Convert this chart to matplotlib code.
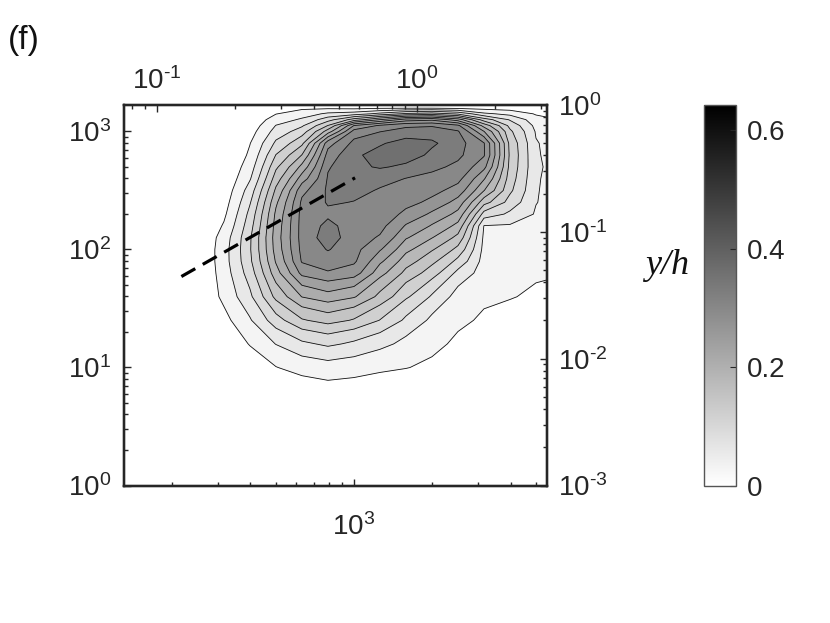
import numpy as np
import matplotlib
matplotlib.use("Agg")
import matplotlib.pyplot as plt
from matplotlib.colors import Normalize
from matplotlib.cm import ScalarMappable
from matplotlib.ticker import LogLocator, FuncFormatter, NullFormatter

plt.rcParams['font.family'] = ['Liberation Sans', 'DejaVu Sans']
plt.rcParams['mathtext.default'] = 'regular'
plt.rcParams['axes.unicode_minus'] = False

# ---------------- data ----------------
# streamwise wavelength (bottom axis) grid
lambda_x = [251.2, 316.2, 398.1, 501.2, 631.0, 794.3, 1000.0, 1258.9, 1584.9,
            1995.3, 2511.9, 3162.3, 3981.1, 5011.9, 6309.6]
# wall-normal wavelength (left axis) grid
lambda_y = [3.98, 6.31, 10.0, 15.85, 25.12, 39.81, 63.10, 79.43, 100.0, 125.9,
            158.5, 199.5, 251.2, 316.2, 398.1, 501.2, 631.0, 794.3, 1000.0,
            1122.0, 1258.9, 1412.5, 1584.9, 1995.3]
# spectrum values, one row per lambda_y, one column per lambda_x
spectrum = [
    [0, 0, 0, 0, 0, 0, 0, 0, 0, 0, 0, 0, 0, 0, 0],
    [0, 0, 0, 0.009, 0.012, 0.018, 0.015, 0.012, 0.011, 0.006, 0, 0, 0, 0, 0],
    [0, 0, 0.012, 0.029, 0.042, 0.048, 0.044, 0.036, 0.031, 0.024, 0.009, 0, 0, 0, 0],
    [0, 0.006, 0.032, 0.061, 0.084, 0.096, 0.084, 0.069, 0.051, 0.039, 0.023, 0.009, 0, 0, 0],
    [0, 0.021, 0.057, 0.108, 0.147, 0.162, 0.147, 0.119, 0.084, 0.053, 0.038, 0.024, 0.012, 0, 0],
    [0, 0.038, 0.084, 0.159, 0.211, 0.228, 0.213, 0.171, 0.125, 0.086, 0.047, 0.038, 0.033, 0.021, 0.012],
    [0, 0.045, 0.105, 0.198, 0.279, 0.297, 0.285, 0.221, 0.171, 0.134, 0.081, 0.045, 0.042, 0.038, 0.033],
    [0, 0.048, 0.114, 0.213, 0.303, 0.315, 0.305, 0.246, 0.194, 0.158, 0.111, 0.048, 0.045, 0.042, 0.038],
    [0, 0.048, 0.117, 0.222, 0.309, 0.332, 0.309, 0.273, 0.218, 0.183, 0.141, 0.051, 0.048, 0.045, 0.039],
    [0, 0.044, 0.116, 0.225, 0.312, 0.345, 0.312, 0.297, 0.243, 0.211, 0.171, 0.054, 0.051, 0.048, 0.041],
    [0, 0.033, 0.108, 0.222, 0.312, 0.338, 0.315, 0.309, 0.267, 0.237, 0.201, 0.059, 0.057, 0.053, 0.042],
    [0, 0.024, 0.099, 0.216, 0.311, 0.324, 0.321, 0.317, 0.293, 0.264, 0.231, 0.108, 0.084, 0.057, 0.044],
    [0, 0.017, 0.087, 0.204, 0.306, 0.333, 0.329, 0.323, 0.309, 0.293, 0.258, 0.162, 0.108, 0.061, 0.045],
    [0, 0.011, 0.074, 0.186, 0.291, 0.335, 0.339, 0.327, 0.318, 0.309, 0.288, 0.211, 0.126, 0.062, 0.045],
    [0, 0.006, 0.057, 0.165, 0.255, 0.333, 0.347, 0.341, 0.329, 0.323, 0.309, 0.243, 0.135, 0.063, 0.045],
    [0, 0.003, 0.045, 0.144, 0.219, 0.327, 0.354, 0.363, 0.354, 0.336, 0.324, 0.279, 0.141, 0.065, 0.045],
    [0, 0, 0.035, 0.121, 0.181, 0.312, 0.356, 0.369, 0.375, 0.353, 0.336, 0.303, 0.144, 0.063, 0.045],
    [0, 0, 0.029, 0.096, 0.143, 0.288, 0.339, 0.357, 0.372, 0.365, 0.341, 0.302, 0.141, 0.062, 0.044],
    [0, 0, 0.018, 0.072, 0.105, 0.195, 0.312, 0.329, 0.342, 0.345, 0.333, 0.241, 0.126, 0.057, 0.041],
    [0, 0, 0.012, 0.061, 0.086, 0.151, 0.271, 0.305, 0.324, 0.327, 0.306, 0.198, 0.111, 0.051, 0.036],
    [0, 0, 0.008, 0.045, 0.065, 0.108, 0.165, 0.211, 0.255, 0.264, 0.225, 0.135, 0.087, 0.041, 0.029],
    [0, 0, 0.003, 0.029, 0.045, 0.066, 0.075, 0.099, 0.126, 0.135, 0.114, 0.066, 0.051, 0.027, 0.018],
    [0, 0, 0, 0.015, 0.024, 0.024, 0.021, 0.024, 0.024, 0.024, 0.021, 0.018, 0.015, 0.009, 0.006],
    [0, 0, 0, 0, 0, 0, 0, 0, 0, 0, 0, 0, 0, 0, 0],
]
# dashed reference line end points
dash_lambda_x = [217, 1010]
dash_lambda_y = [59, 405]

colorbar_ticks = [0, 0.2, 0.4, 0.6]
colorbar_ticklabels = ['0', '0.2', '0.4', '0.6']


def decade_label(v, pos=None):
    e = int(round(np.log10(v)))
    s = str(abs(e))
    if e < 0:
        s = '\u2010' + s
    return r'$\mathdefault{10^{%s}}$' % s


# ---------------- figure ----------------
fig = plt.figure(figsize=(8.3, 6.23), dpi=100)
ax = fig.add_axes([123.5 / 830, 1 - 485.5 / 623, 423.5 / 830, 380.5 / 623])
ax.set_xscale('log')
ax.set_yscale('log')
ax.set_xlim(130, 5525)
ax.set_ylim(1, 1677)

cmap = plt.get_cmap('gray_r')
norm = Normalize(0, 0.643)
levels = list(np.round(np.arange(1, 13) * 0.03, 3)) + [0.40]
fill_colors = [cmap(norm(v)) for v in levels[:-1]]

X, Y = np.meshgrid(lambda_x, lambda_y)
Z = np.array(spectrum)
ax.contourf(X, Y, Z, levels=levels, colors=fill_colors)
ax.contour(X, Y, Z, levels=levels[:-1], colors='#111111', linewidths=0.6)
ax.plot(dash_lambda_x, dash_lambda_y, color='k', lw=2.3, linestyle=(0, (5, 2.7)))

ax_r = ax.twinx()
ax_r.set_yscale('log')
ax_r.set_ylim(1e-3, 1)
ax_t = ax.twiny()
ax_t.set_xscale('log')
ax_t.set_xlim(0.0743, 3.162)

for a, axis in ((ax, ax.xaxis), (ax, ax.yaxis), (ax_r, ax_r.yaxis), (ax_t, ax_t.xaxis)):
    axis.set_major_locator(LogLocator(base=10, numticks=20))
    axis.set_minor_locator(LogLocator(base=10, subs=np.arange(2, 10), numticks=20))
    axis.set_major_formatter(FuncFormatter(decade_label))
    axis.set_minor_formatter(NullFormatter())

for a in (ax, ax_r, ax_t):
    a.tick_params(which='both', direction='in', colors='#262626', labelsize=20,
                  labelcolor='#262626')
    a.tick_params(which='major', length=5, width=1.0)
    a.tick_params(which='minor', length=3, width=1.0)
    for s in a.spines.values():
        s.set_linewidth(1.6)
        s.set_color('#262626')

ax.tick_params(axis='x', pad=20)
ax.tick_params(axis='y', pad=9)
ax_r.tick_params(axis='y', pad=8)
ax_t.tick_params(axis='x', pad=7)

# colorbar
cax = fig.add_axes([704 / 830, 1 - 485.5 / 623, 32 / 830, 380.5 / 623])
sm = ScalarMappable(norm=norm, cmap=cmap)
cb = fig.colorbar(sm, cax=cax, ticks=colorbar_ticks)
cb.ax.set_yticklabels(colorbar_ticklabels)
cb.outline.set_edgecolor('#555555')
cb.outline.set_linewidth(1.0)
cax.tick_params(direction='in', length=4, width=0.8, labelsize=20, pad=8,
                colors='#262626', labelcolor='#262626')

fig.text(667 / 830, 1 - 265 / 623, 'y/h', fontsize=26, ha='center', va='center',
         family=['Liberation Serif', 'DejaVu Serif'], style='italic', color='#111111')
fig.text(8 / 830, 1 - 40 / 623, '(f)', fontsize=24, ha='left', va='center', color='#111111')

fig.savefig('out.png', dpi=100)
